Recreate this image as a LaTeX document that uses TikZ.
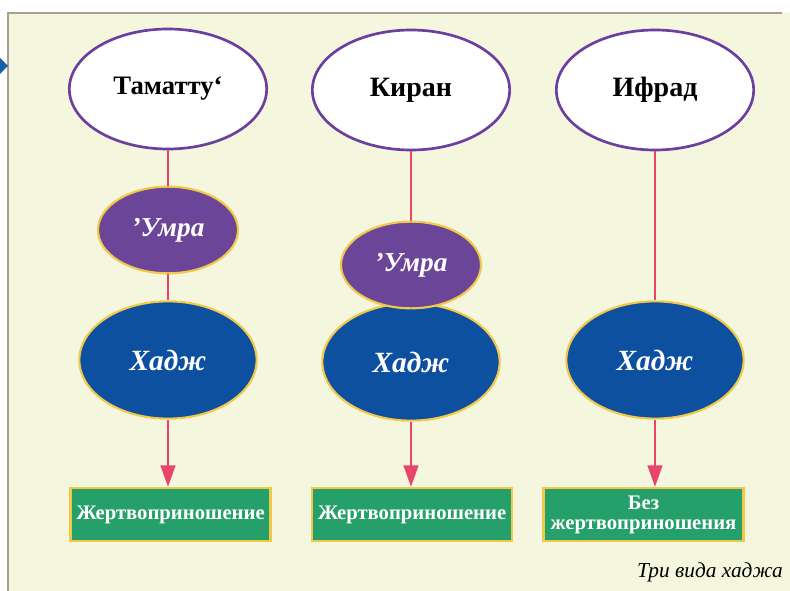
\documentclass[tikz,border=0pt]{standalone}
\usepackage{fontspec}
\setmainfont{Liberation Serif}
\usetikzlibrary{shapes.geometric,arrows.meta}
\definecolor{panelbg}{RGB}{245,246,222}
\definecolor{panelrule}{RGB}{170,156,146}
\definecolor{typeline}{RGB}{106,63,160}
\definecolor{umrafill}{RGB}{107,69,151}
\definecolor{hajjfill}{RGB}{13,80,160}
\definecolor{goldrule}{RGB}{242,200,75}
\definecolor{linkpink}{RGB}{232,69,107}
\definecolor{giftfill}{RGB}{38,160,106}
\definecolor{markblue}{RGB}{25,95,170}

\tikzset{
  typeoval/.style={ellipse, draw=typeline, line width=2pt, fill=white,
    minimum width=148pt, minimum height=90pt, inner sep=0pt,
    font=\fontsize{21}{24}\selectfont\bfseries},
  umraoval/.style={ellipse, draw=goldrule, line width=1.6pt, fill=umrafill,
    minimum width=105pt, minimum height=65pt, inner sep=0pt, text=white,
    font=\fontsize{20.5}{22}\selectfont\bfseries\itshape},
  hajjoval/.style={ellipse, draw=goldrule, line width=1.6pt, fill=hajjfill,
    minimum width=133pt, minimum height=88pt, inner sep=0pt, text=white,
    font=\fontsize{22}{24}\selectfont\bfseries\itshape},
  giftbox/.style={rectangle, draw=goldrule, line width=1.6pt, fill=giftfill,
    minimum width=150pt, minimum height=40pt, inner sep=0pt, text=white,
    align=center, font=\fontsize{15.5}{15}\selectfont\bfseries},
  link/.style={draw=linkpink, line width=1.8pt},
  linkarrow/.style={link, -{Triangle[width=11pt,length=16pt]}}
}

\begin{document}
\begin{tikzpicture}[x=0.75pt,y=0.75pt,yscale=-1,xscale=1]
\useasboundingbox (0,0) rectangle (790,591);

% panel
\fill[panelbg] (8,13) rectangle (790,591);
\draw[panelrule, line width=1.2pt] (8,591) -- (8,13) -- (782,13);
\fill[markblue] (-8,66) -- (0,58) -- (8,66) -- (0,74) -- cycle;

% Type Nodes
\node[typeoval] (tamattu) at (168,89) {\fontsize{20}{24}\selectfont Таматту‘};
\node[typeoval] (kiran) at (411,90) {Киран};
\node[typeoval] (ifrad) at (655,90) {Ифрад};

% Hajj Nodes
\node[hajjoval] (hajjA) at (168,360) {Хадж};
\node[hajjoval] (hajjB) at (411,362) {Хадж};
\node[hajjoval] (hajjC) at (655,360) {Хадж};

% Umra Nodes
\node[umraoval] (umraA) at (168,230) {’Умра};
\node[umraoval] (umraB) at (411,265) {’Умра};

% Sacrifice Nodes
\node[giftbox] (giftA) at (170.5,514.5) {Жертвоприношение};
\node[giftbox] (giftB) at (412,514.5) {Жертвоприношение};
\node[giftbox] (giftC) at (643.5,514.5) {Без\\жертвоприношения};

% Links
\draw[link] (tamattu) -- (umraA);
\draw[link] (umraA) -- (hajjA);
\draw[link] (kiran) -- (umraB);
\draw[link] (ifrad) -- (hajjC);
\draw[linkarrow] (hajjA.south) -- (hajjA.south |- giftA.north);
\draw[linkarrow] (hajjB.south) -- (hajjB.south |- giftB.north);
\draw[linkarrow] (hajjC.south) -- (hajjC.south |- giftC.north);

% Caption
\node[anchor=base east, inner sep=0pt, font=\fontsize{16}{18}\selectfont\itshape] (caption) at (783,578) {Три вида хаджа};

\end{tikzpicture}
\end{document}
